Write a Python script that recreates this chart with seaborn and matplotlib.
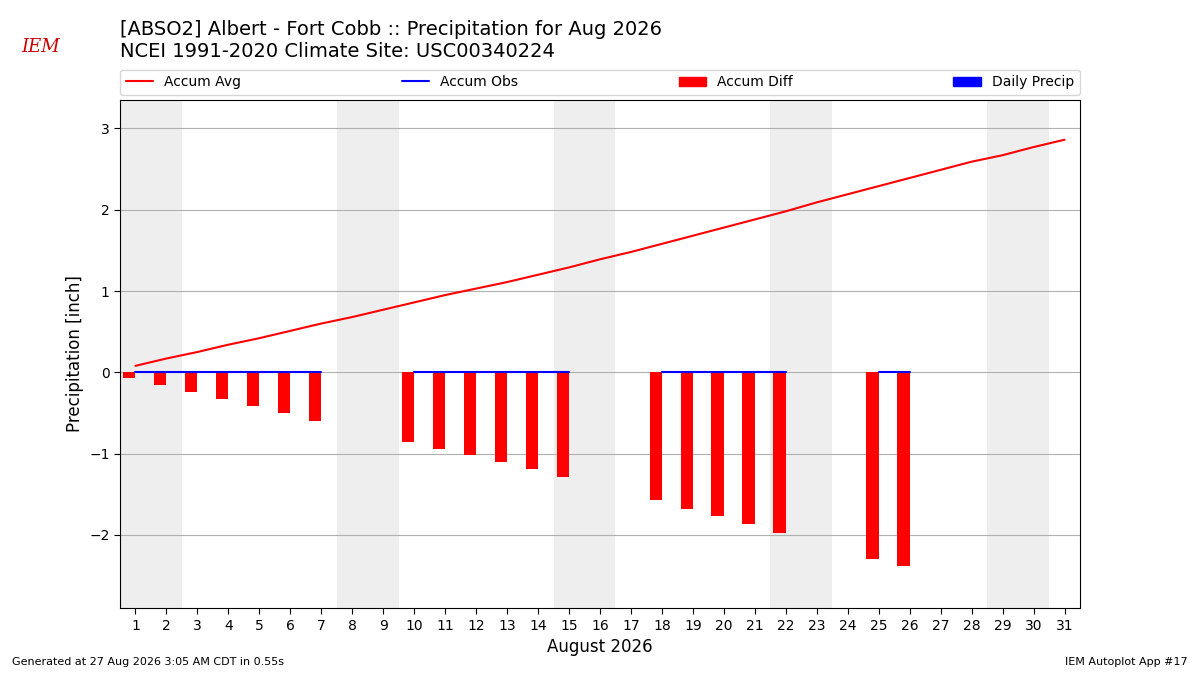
import matplotlib
matplotlib.use('Agg')
import numpy as np
import pandas as pd
import matplotlib.pyplot as plt
import seaborn as sns
from matplotlib.patches import Patch
from matplotlib.lines import Line2D

days = list(range(1, 32))
accum_avg = [0.08, 0.17, 0.25, 0.34, 0.42, 0.51, 0.60, 0.68, 0.77, 0.86, 0.95,
             1.03, 1.11, 1.20, 1.29, 1.39, 1.48, 1.58, 1.68, 1.78, 1.88, 1.98,
             2.09, 2.19, 2.29, 2.39, 2.49, 2.59, 2.67, 2.77, 2.86]
obs_days = [1, 2, 3, 4, 5, 6, 7, 10, 11, 12, 13, 14, 15, 18, 19, 20, 21, 22, 25, 26]
accum_diff = [-0.07, -0.16, -0.24, -0.33, -0.42, -0.50, -0.60, -0.86, -0.94, -1.02,
              -1.10, -1.19, -1.29, -1.57, -1.68, -1.77, -1.87, -1.98, -2.29, -2.38]
weekends = [1, 8, 15, 22, 29]

sns.set_style("white")
plt.rcParams['font.family'] = ['DejaVu Sans']
plt.rcParams.update({'text.color': 'black', 'axes.labelcolor': 'black',
                     'xtick.color': 'black', 'ytick.color': 'black'})

fig = plt.figure(figsize=(12, 6.75), dpi=100)
ax = fig.add_axes([0.1, 0.099, 0.8, 0.753])

for d in weekends:
    ax.axvspan(d - 0.5, d + 1.5, color='#eeeeee', lw=0, zorder=0)
ax.grid(axis='y', color='#b0b0b0', lw=0.8, zorder=1)
ax.set_axisbelow(True)

ax.bar(obs_days, accum_diff, width=-0.4, align='edge', color='red', lw=0, zorder=2)

sns.lineplot(x=days, y=accum_avg, color='red', ax=ax, zorder=3)
# obs line segments (missing days break the line)
obs = pd.Series(np.nan, index=days)
obs.loc[obs_days] = 0.0
ax.plot(days, obs.values, color='blue', zorder=3)

ax.set_xlim(0.5, 31.5)
ax.set_ylim(-2.9, 3.35)
ax.set_xticks(days)
ax.set_yticks([-2, -1, 0, 1, 2, 3])
ax.set_yticklabels(['\u22122', '\u22121', '0', '1', '2', '3'])
ax.tick_params(axis='both', labelsize=10, length=4, left=True, bottom=True)
for s in ax.spines.values():
    s.set_color('black')
    s.set_linewidth(0.8)
ax.set_xlabel('August 2026', fontsize=12)
ax.set_ylabel('Precipitation [inch]', fontsize=12)

handles = [Line2D([], [], color='red'), Line2D([], [], color='blue'),
           Patch(color='red'), Patch(color='blue')]
ax.legend(handles, ['Accum Avg', 'Accum Obs', 'Accum Diff', 'Daily Precip'],
          loc='lower left', bbox_to_anchor=(0, 1.01, 1, 0.05), ncol=4,
          mode='expand', fontsize=10, borderaxespad=0, frameon=True)

fig.text(0.1, 0.94, '[ABSO2] Albert - Fort Cobb :: Precipitation for Aug 2026\n'
         'NCEI 1991-2020 Climate Site: USC00340224', fontsize=14, va='center')
fig.text(0.018, 0.93, 'IEM', color='#cc0000', fontsize=13, style='italic',
         family='DejaVu Serif', va='center')
fig.text(0.01, 0.015, 'Generated at 27 Aug 2026 3:05 AM CDT in 0.55s', fontsize=8)
fig.text(0.99, 0.015, 'IEM Autoplot App #17', fontsize=8, ha='right')

fig.savefig('out.png', dpi=100)
